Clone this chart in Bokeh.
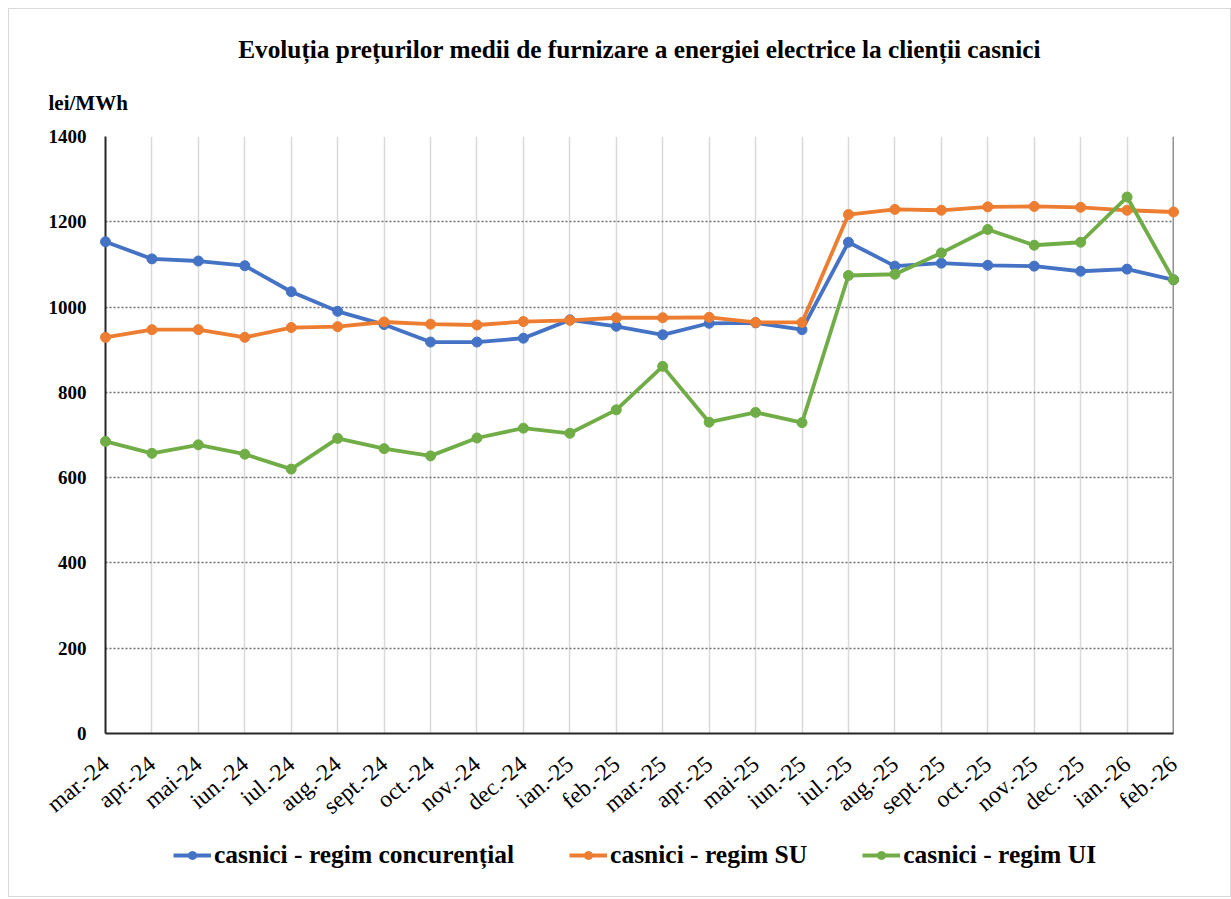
from bokeh.plotting import figure
from bokeh.models import Range1d, FixedTicker, Legend, LegendItem, Title, Span
from bokeh.layouts import column
from bokeh.embed import file_html
from bokeh.resources import INLINE
from math import pi

months = ["mar.-24", "apr.-24", "mai-24", "iun.-24", "iul.-24", "aug.-24", "sept.-24",
          "oct.-24", "nov.-24", "dec.-24", "ian.-25", "feb.-25", "mar.-25", "apr.-25",
          "mai-25", "iun.-25", "iul.-25", "aug.-25", "sept.-25", "oct.-25", "nov.-25",
          "dec.-25", "ian.-26", "feb.-26"]
concurential = [1153, 1113, 1108, 1097, 1036, 990, 959, 918, 918, 927, 970, 955,
                935, 962, 963, 947, 1152, 1096, 1103, 1098, 1096, 1084, 1089, 1064]
regim_su = [929, 947, 947, 929, 952, 954, 965, 960, 958, 966, 969, 975,
            975, 976, 964, 964, 1217, 1229, 1227, 1235, 1236, 1234, 1227, 1223]
regim_ui = [685, 657, 677, 655, 620, 692, 668, 651, 693, 716, 704, 759,
            861, 730, 753, 729, 1074, 1077, 1127, 1182, 1145, 1152, 1258, 1064]
y_ticks = [0, 200, 400, 600, 800, 1000, 1200, 1400]
series_names = ["casnici - regim concurențial", "casnici - regim SU", "casnici - regim UI"]
series_colors = ["#4472C4", "#ED7D31", "#70AD47"]
title_text = "Evoluția prețurilor medii de furnizare a energiei electrice la clienții casnici"
unit_text = "lei/MWh"

FONT = "Liberation Serif"
xs = list(range(len(months)))
series_values = [concurential, regim_su, regim_ui]

p = figure(width=1221, height=822,
           min_border_left=96, min_border_right=57, min_border_top=127, min_border_bottom=98,
           x_range=Range1d(0, len(months) - 1), y_range=Range1d(0, 1400),
           output_backend="svg", toolbar_location=None)
p.outline_line_color = None
p.background_fill_color = "white"
p.border_fill_color = "white"

# title
p.title.text = title_text
p.title.align = "center"
p.title.text_font = FONT
p.title.text_font_style = "bold"
p.title.text_font_size = "25.3px"
p.title.text_color = "black"
p.title.standoff = 8

unit_title = Title(text=unit_text, align="left", offset=-57, text_font=FONT,
                   text_font_style="bold", text_font_size="21px", text_color="black",
                   standoff=44)
p.add_layout(unit_title, "above")

# axes
p.xaxis.ticker = FixedTicker(ticks=xs)
p.xaxis.major_label_overrides = {i: m for i, m in enumerate(months)}
p.xaxis.major_label_orientation = pi * 40 / 180
p.xaxis.major_label_text_font = FONT
p.xaxis.major_label_text_font_size = "23.5px"
p.xaxis.major_label_text_color = "black"
p.xaxis.major_label_standoff = 21
p.yaxis.ticker = FixedTicker(ticks=y_ticks)
p.yaxis.major_label_text_font = FONT
p.yaxis.major_label_text_font_style = "bold"
p.yaxis.major_label_text_font_size = "19px"
p.yaxis.major_label_text_color = "black"
p.yaxis.major_label_standoff = 13
for ax in (p.xaxis, p.yaxis):
    ax.major_tick_line_color = None
    ax.minor_tick_line_color = None
    ax.axis_line_color = "#262626"
    ax.axis_line_width = 2

# grids
p.xgrid.ticker = FixedTicker(ticks=xs)
p.xgrid.grid_line_color = "#d9d9d9"
p.xgrid.grid_line_width = 1.5
p.ygrid.ticker = FixedTicker(ticks=y_ticks)
p.ygrid.grid_line_color = "#6f6f6f"
p.ygrid.grid_line_width = 1.5
p.ygrid.grid_line_dash = "2 2"

p.add_layout(Span(location=len(months) - 1, dimension="height", line_color="#262626", line_width=1.5))

for vals, col in zip(series_values, series_colors):
    p.line(xs, vals, line_color=col, line_width=3.8, level="overlay")
    p.scatter(xs, vals, size=10, fill_color=col, line_color=col, level="overlay")

# legend strip underneath (its own small figure; the series sit outside its visible range)
lf = figure(width=1221, height=65, min_border_left=0, min_border_right=0,
            min_border_top=0, min_border_bottom=0,
            x_range=Range1d(1000, 1001), y_range=Range1d(5000, 5001),
            x_axis_type=None, y_axis_type=None,
            output_backend="svg", toolbar_location=None)
lf.outline_line_color = None
lf.background_fill_color = "white"
lf.border_fill_color = "white"
items = []
for name, vals, col in zip(series_names, series_values, series_colors):
    l = lf.line(xs, vals, line_color=col, line_width=3.8)
    s = lf.scatter(xs, vals, size=9, fill_color=col, line_color=col)
    items.append(LegendItem(label=name, renderers=[l, s]))
legend = Legend(items=items, location=(68, 26), orientation="horizontal",
                label_text_font=FONT, label_text_font_style="bold", label_text_font_size="25.5px",
                label_text_color="black", glyph_width=38, glyph_height=20, label_standoff=3,
                spacing=55, padding=0, margin=0, border_line_color=None,
                background_fill_alpha=0)
lf.add_layout(legend)

layout = column(p, lf, spacing=0,
                styles={"border": "1px solid #d9d9d9", "margin": "8px 0 0 8px"})

open("out.html", "w").write(file_html(layout, INLINE))
